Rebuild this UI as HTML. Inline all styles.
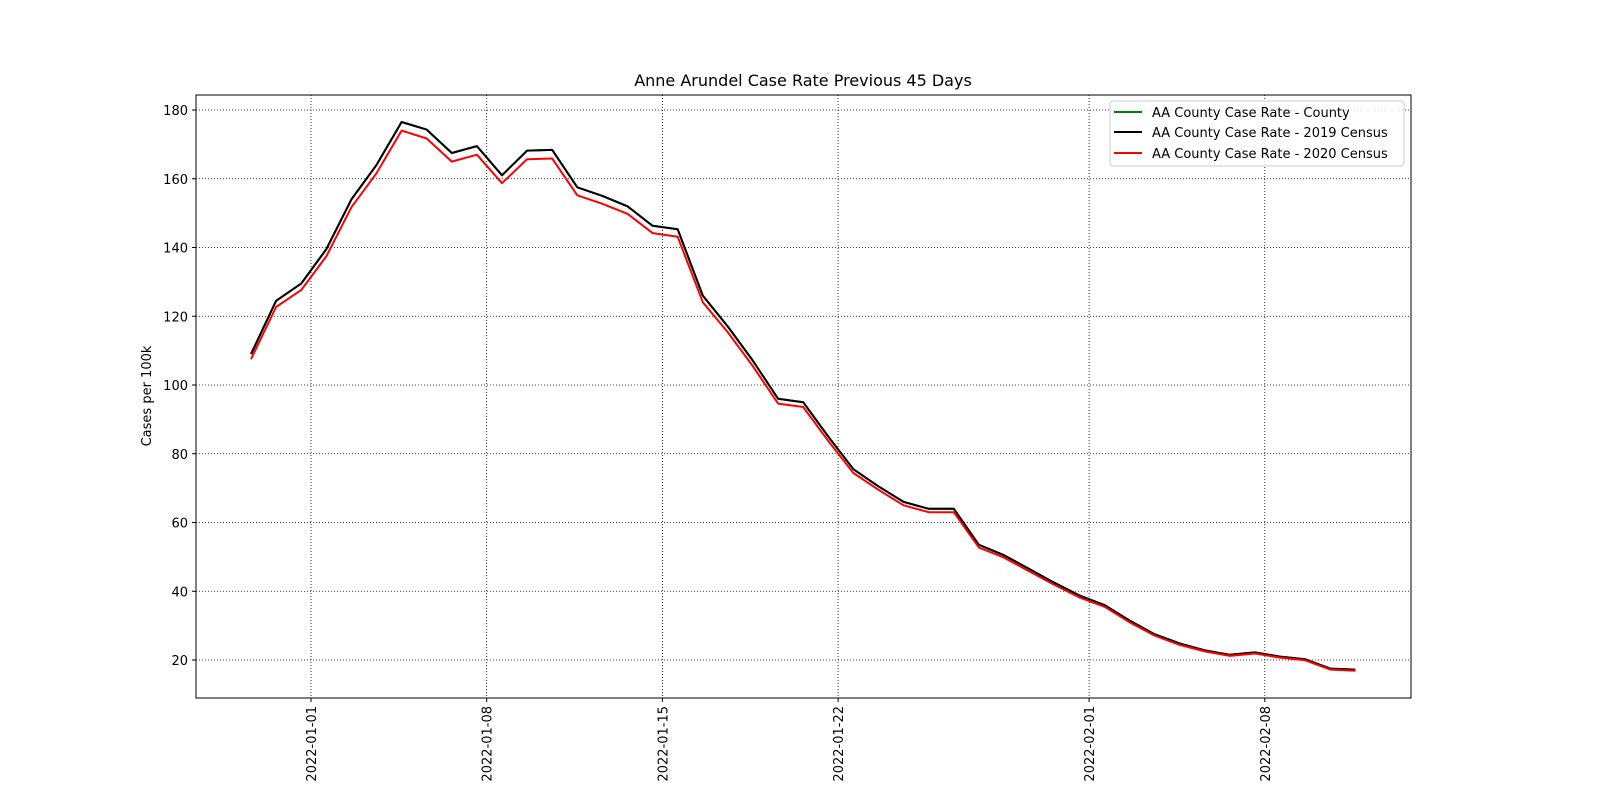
<!DOCTYPE html>
<html><head><meta charset="utf-8"><style>
body{margin:0;background:#fff;}
svg{display:block;font-family:"DejaVu Sans","Liberation Sans",sans-serif;}
</style></head><body>
<svg id="chart" width="1600" height="800" viewBox="0 0 1600 800">
<rect width="1600" height="800" fill="#fff"/>
<g id="grid"></g>
<g id="series"></g>
<rect x="196" y="95" width="1215" height="603" fill="none" stroke="#000" stroke-width="1"/>
<g id="yticks"></g>
<g id="xticks"></g>
<text x="803" y="86" text-anchor="middle" font-size="16">Anne Arundel Case Rate Previous 45 Days</text>
<text transform="translate(151,396) rotate(-90)" text-anchor="middle" font-size="13">Cases per 100k</text>
<g>
<rect x="1110" y="101" width="294" height="65" rx="3" fill="#fff" fill-opacity="0.8" stroke="#ccc"/>
<g><line x1="1114" x2="1142" y1="112" y2="112" stroke="green" stroke-width="2"/><text x="1152" y="117" font-size="13">AA County Case Rate - County</text></g>
<g><line x1="1114" x2="1142" y1="132" y2="132" stroke="#000" stroke-width="2"/><text x="1152" y="137" font-size="13">AA County Case Rate - 2019 Census</text></g>
<g><line x1="1114" x2="1142" y1="153" y2="153" stroke="red" stroke-width="2"/><text x="1152" y="158" font-size="13">AA County Case Rate - 2020 Census</text></g>
</g>
</svg>
<script>
const startOffsetDays = -2.39;
const county = [109,124.5,129.5,139.5,154,164,176.5,174.3,167.5,169.5,161,168.2,168.4,157.5,155,152,146.3,145.3,126,117,107,96,95,85,75.5,70.5,66,64,64,53.5,50.5,46.5,42.5,38.8,36,31.5,27.5,24.8,22.8,21.5,22.2,21,20.2,17.5,17.2];
const census2019 = [109,124.5,129.5,139.5,154,164,176.5,174.3,167.5,169.5,161,168.2,168.4,157.5,155,152,146.3,145.3,126,117,107,96,95,85,75.5,70.5,66,64,64,53.5,50.5,46.5,42.5,38.8,36,31.5,27.5,24.8,22.8,21.5,22.2,21,20.2,17.5,17.2];
const census2020 = [107.5,122.7,127.6,137.4,151.7,161.6,174,171.7,165,167,158.7,165.7,165.9,155.2,152.7,149.8,144.2,143.1,124.1,115.3,105.4,94.6,93.6,83.7,74.4,69.5,65,63,63,52.7,49.8,45.8,41.9,38.2,35.5,31,27.1,24.4,22.5,21.2,21.9,20.7,19.9,17.2,16.9];
const yTicks = [20,40,60,80,100,120,140,160,180];
const xTickDays = [0,7,14,21,31,38];
const xTickLabels = ["2022-01-01","2022-01-08","2022-01-15","2022-01-22","2022-02-01","2022-02-08"];
const NS="http://www.w3.org/2000/svg";
const x = d => 311 + d*25.1;
const y = v => 660 - (v-20)*3.4375;
function mk(tag, attrs, parent){const e=document.createElementNS(NS,tag);for(const k in attrs)e.setAttribute(k,attrs[k]);parent.appendChild(e);return e;}
const grid=document.getElementById('grid'), yt=document.getElementById('yticks'), xt=document.getElementById('xticks'), ser=document.getElementById('series');
yTicks.forEach(v=>{
  const g=mk('line',{x1:196,x2:1411,y1:y(v),y2:y(v),stroke:'#000','stroke-width':0.8,'stroke-dasharray':'1,2'},grid);
  
  
  mk('line',{x1:192,x2:196,y1:y(v),y2:y(v),stroke:'#000'},yt);
  const t=mk('text',{x:188,y:y(v)+5,'text-anchor':'end','font-size':13},yt);
  t.textContent=v;
  
  
});
xTickDays.forEach((d,i)=>{
  const g=mk('line',{x1:x(d),x2:x(d),y1:95,y2:698,stroke:'#000','stroke-width':0.8,'stroke-dasharray':'1,2'},grid);
  
  
  mk('line',{x1:x(d),x2:x(d),y1:698,y2:702,stroke:'#000'},xt);
  const t=mk('text',{transform:`translate(${x(d)+5},706) rotate(-90)`,'text-anchor':'end','font-size':13},xt);
  t.textContent=xTickLabels[i];
  
  
});
function line(data,color,name){
  const pts=data.map((v,i)=>x(startOffsetDays+i).toFixed(1)+','+y(v).toFixed(1)).join(' ');
  const p=mk('polyline',{points:pts,fill:'none',stroke:color,'stroke-width':2,'stroke-linejoin':'round'},ser);
  
  
}
line(county,'green','line-county');
line(census2019,'#000','line-2019-census');
line(census2020,'red','line-2020-census');
</script>
</body></html>
